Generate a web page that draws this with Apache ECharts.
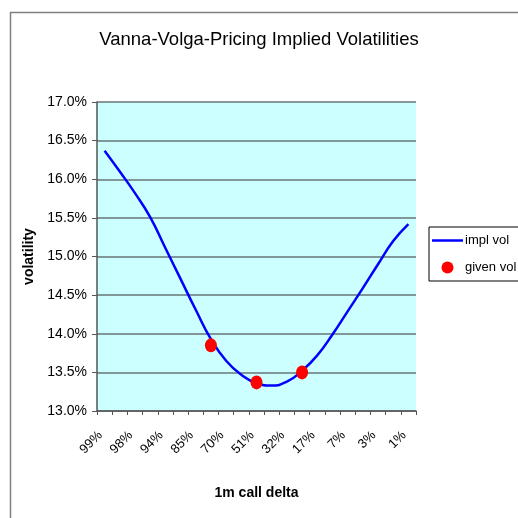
<!DOCTYPE html>
<html>
<head>
<meta charset="utf-8">
<script src="https://cdn.jsdelivr.net/npm/echarts@6/dist/echarts.min.js"></script>
<style>html,body{margin:0;padding:0;background:#fff;}#c{width:518px;height:518px;}</style>
</head>
<body>
<div id="c"></div>
<script>
// 1m call delta categories (every other one is labelled in the chart)
var deltaCategories = ['99%','99.5%','98%','97%','94%','90%','85%','78%','70%','61%','51%','41%','32%','24%','17%','11%','7%','5%','3%','2%','1%'];
// implied volatility curve (%)
var implVol = [16.37,16.10,15.82,15.51,15.11,14.71,14.31,13.93,13.65,13.47,13.36,13.33,13.38,13.52,13.72,13.99,14.29,14.59,14.90,15.20,15.42];
// given volatility points: category index and value (%)
var givenIdx = [7,10,13];
var givenVol = [13.85,13.37,13.50];
// y-axis ticks
var yMin = 13.0, yMax = 17.0, yStep = 0.5;

var givenData = givenIdx.map(function(i,k){ return [i, givenVol[k]]; });

var chart = echarts.init(document.getElementById('c'), null, {renderer:'canvas'});
var font = "'Liberation Sans', Arial, sans-serif";
chart.setOption({
  animation: false,
  backgroundColor: '#ffffff',
  textStyle: {fontFamily: font},
  title: {
    text: 'Vanna-Volga-Pricing Implied Volatilities',
    left: 'center', top: 25,
    textStyle: {fontFamily: font, fontSize: 18.5, fontWeight: 'normal', color: '#000'}
  },
  graphic: [{
    type: 'rect', left: 8, top: 10, silent: true,
    shape: {width: 530, height: 530},
    style: {fill: 'none', stroke: '#808080', lineWidth: 1.5}
  }],
  legend: {
    orient: 'vertical', left: 429, top: 227,
    padding: [7, 12, 7, 3],
    itemGap: 14, itemWidth: 31, itemHeight: 12,
    borderColor: '#000', borderWidth: 1, borderRadius: 0,
    textStyle: {fontFamily: font, fontSize: 13, color: '#000', padding: [0,0,0,-3]},
    data: [{name: 'impl vol', icon: 'path://M0,0 L31,0 L31,2.5 L0,2.5 Z'}, {name: 'given vol', icon: 'circle'}]
  },
  grid: {
    left: 97, right: 102, top: 102, bottom: 107,
    show: true, backgroundColor: '#CCFFFF', borderWidth: 0
  },
  xAxis: {
    type: 'category', data: deltaCategories, boundaryGap: true,
    name: '1m call delta', nameLocation: 'middle', nameGap: 75,
    nameTextStyle: {fontFamily: font, fontSize: 14, fontWeight: 'bold', color: '#000'},
    axisLine: {lineStyle: {color: '#555', width: 1.5}},
    axisTick: {show: true, interval: 0, length: 4, lineStyle: {color: '#555'}},
    axisLabel: {interval: 1, rotate: 45, margin: 18, fontSize: 13, fontFamily: font, color: '#000', padding: [0, 6, 0, 0]},
    splitLine: {show: false}
  },
  yAxis: {
    type: 'value', min: yMin, max: yMax, interval: yStep,
    name: 'volatility', nameLocation: 'middle', nameGap: 53,
    nameTextStyle: {fontFamily: font, fontSize: 14, fontWeight: 'bold', color: '#000'},
    axisLine: {show: true, lineStyle: {color: '#555', width: 1.5}},
    axisTick: {show: true, length: 5, lineStyle: {color: '#555'}},
    axisLabel: {fontSize: 14, fontFamily: font, color: '#000', margin: 10,
      formatter: function(v){ return v.toFixed(1) + '%'; }},
    splitLine: {show: true, lineStyle: {color: '#6a7676', width: 1.5}}
  },
  series: [{
    name: 'impl vol', type: 'line', data: implVol, smooth: 0.5,
    symbol: 'none', lineStyle: {color: '#0000FF', width: 2.5}, itemStyle: {color: '#0000FF'}, z: 2
  }, {
    name: 'given vol', type: 'scatter', data: givenData,
    symbol: 'circle', symbolSize: [12, 14], itemStyle: {color: '#FF0000', opacity: 1}, z: 3
  }]
});
</script>
</body>
</html>
